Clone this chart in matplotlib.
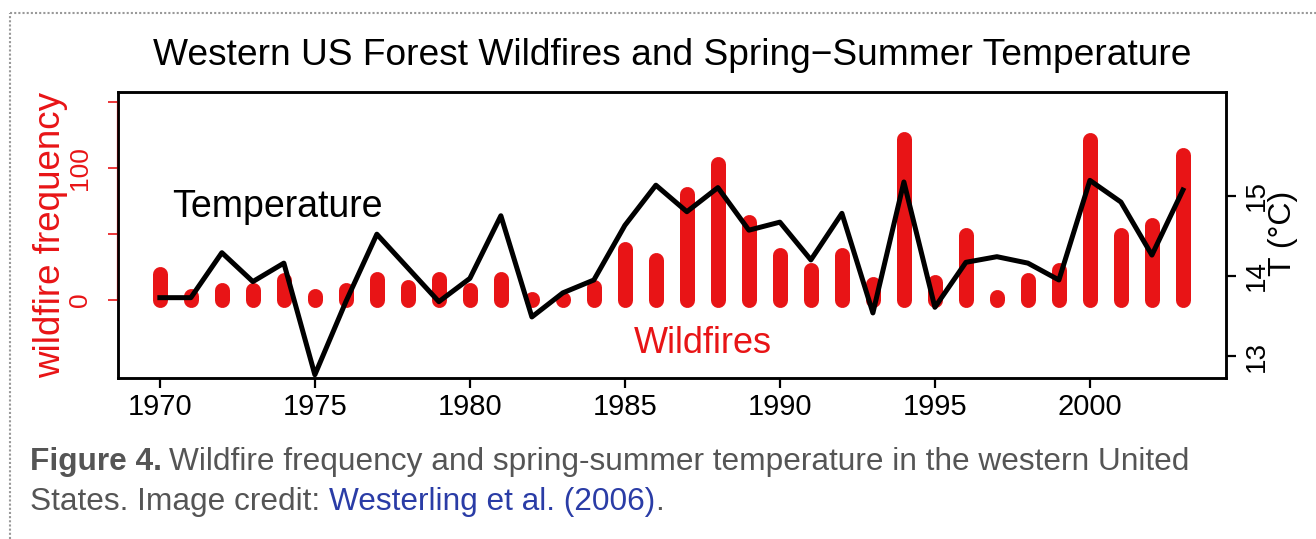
import matplotlib
matplotlib.use("Agg")
import matplotlib.pyplot as plt
from matplotlib.lines import Line2D

plt.rcParams["font.family"] = ["Liberation Sans", "DejaVu Sans"]

# data
years = list(range(1970, 2004))
fires = [20, 3, 7.5, 8, 15, 3, 8, 16, 10, 16, 7.5, 16, 1,
         1, 10, 39, 30, 80, 103, 59, 34, 23, 34, 12,
         122, 13.6, 49, 2, 15, 23, 121, 49, 57, 110]
temps = [13.73, 13.73, 14.29, 13.93, 14.16, 12.77, 13.68, 14.52, 14.10, 13.68, 13.97, 14.75, 13.49,
         13.79, 13.95, 14.63, 15.13, 14.80, 15.10, 14.57, 14.67, 14.20, 14.78, 13.54,
         15.17, 13.61, 14.17, 14.24, 14.16, 13.95, 15.19, 14.92, 14.26, 15.07]
xticks = [1970, 1975, 1980, 1985, 1990, 1995, 2000]
fire_ticks = [0, 50, 100, 150]
fire_labels = ["0", "", "100", ""]
temp_ticks = [13, 14, 15]

W, H = 1316, 539
red = "#e81416"
grey = "#555555"

fig = plt.figure(figsize=(W / 100, H / 100), dpi=100)
ax = fig.add_axes([118 / W, 1 - 378 / H, (1226 - 118) / W, (378 - 92) / H])
ax2 = ax.twinx()

# wildfire bars (thick lines with round ends)
ax.vlines(years, 0, fires, colors=red, linewidth=10.8, capstyle="round", zorder=2)
ax.set_xlim(1968.65, 2004.39)
ax.set_ylim(-59, 157.6)

# temperature line
ax2.plot(years, temps, color="black", lw=3.6, solid_joinstyle="round", zorder=3)
ax2.set_ylim(12.73, 16.29)
ax.set_zorder(ax2.get_zorder() - 1)
ax.patch.set_visible(False)

for a in (ax, ax2):
    for s in a.spines.values():
        s.set_linewidth(1.8)
        s.set_color("black")

ax.set_xticks(xticks)
ax.tick_params(axis="x", length=7, width=1.6, pad=4, labelsize=21)
ax.set_yticks(fire_ticks)
ax.set_yticklabels(fire_labels)
ax.tick_params(axis="y", colors=red, length=7, width=1.2, pad=12,
               labelsize=19, labelrotation=90)
for t in ax.get_yticklabels():
    t.set_va("center")
ax.plot([0, 0], [0, 150], color=red, lw=1.6, transform=ax.get_yaxis_transform(),
        clip_on=False, zorder=5)

ax2.set_yticks(temp_ticks)
ax2.tick_params(axis="y", length=7, width=1.6, pad=6, labelsize=20, labelrotation=90)
for t in ax2.get_yticklabels():
    t.set_va("center")

ax2.text(1973.8, 14.86, "Temperature", fontsize=27, ha="center", va="center")
ax.text(1987.5, -32.6, "Wildfires", fontsize=26, color=red, ha="center", va="center")

fig.text(51 / W, 1 - 235 / H, "wildfire frequency", rotation=90, fontsize=26.5,
         color=red, ha="center", va="center")
fig.text(1283 / W, 1 - 233 / H, "T (°C)", rotation=90, fontsize=23,
         ha="center", va="center")

fig.text(672 / W, 1 - 65 / H, "Western US Forest Wildfires and Spring\u2212Summer Temperature",
         fontsize=26.7, ha="center", va="baseline")

# dotted frame around the figure block
fig.add_artist(Line2D([10 / W, 1], [1 - 13 / H] * 2, transform=fig.transFigure,
                      color="#999999", lw=1.5, linestyle=(0, (1, 1))))
fig.add_artist(Line2D([10 / W] * 2, [0, 1 - 13 / H], transform=fig.transFigure,
                      color="#999999", lw=1.5, linestyle=(0, (1, 1))))

# caption, pieced together so the bold and link parts line up
r = fig.canvas.get_renderer()
def piece(x, y, s, **kw):
    t = fig.text(x / W, 1 - y / H, s, fontsize=22.8, va="baseline", **kw)
    return t.get_window_extent(r).x1

x = piece(30, 470, "Figure 4.", color=grey, fontweight="bold")
piece(x + 7, 470, "Wildfire frequency and spring-summer temperature in the western United", color=grey)
x = piece(30, 510, "States. Image credit: ", color=grey)
x = piece(x, 510, "Westerling et al. (2006)", color="#2a3ca6")
piece(x, 510, ".", color=grey)

fig.savefig("out.png", dpi=100)
